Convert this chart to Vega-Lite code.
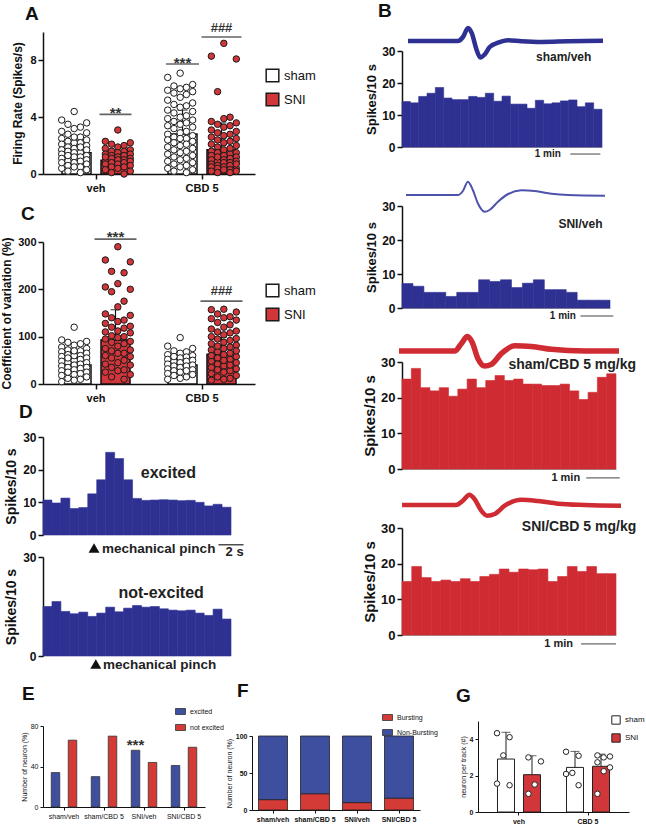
{
"$schema": "https://vega.github.io/schema/vega-lite/v6.json",
"background": "white",
"padding": {"left": 0, "top": 2, "right": 2, "bottom": 0},
"config": {
  "view": {"stroke": null},
  "font": "Liberation Sans",
  "axis": {"grid": false, "domainColor": "#111", "tickColor": "#111", "domainWidth": 1.5, "tickWidth": 1.5, "tickSize": 4, "labelColor": "#111", "titleColor": "#111", "labelFontWeight": "bold", "titleFontWeight": "bold", "labelFont": "Liberation Sans", "titleFont": "Liberation Sans"},
  "title": {"fontSize": 19, "fontWeight": "bold", "anchor": "start", "frame": "group", "color": "#111", "font": "Liberation Sans", "baseline": "alphabetic"},
  "legend": {"labelFont": "Liberation Sans", "labelColor": "#111"}
},
"datasets": {
  "a_bar": [{"g":"veh","c":"sham","mean":1.5,"hi":2.4},{"g":"veh","c":"SNI","mean":0.96,"hi":1.55},{"g":"CBD 5","c":"sham","mean":2.82,"hi":4.5},{"g":"CBD 5","c":"SNI","mean":1.7,"hi":3.6}],
  "c_bar": [{"g":"veh","c":"sham","mean":40,"hi":65},{"g":"veh","c":"SNI","mean":93,"hi":157},{"g":"CBD 5","c":"sham","mean":40,"hi":58},{"g":"CBD 5","c":"SNI","mean":63,"hi":98}],
  "a_pts": [
{"g":"veh","c":"sham","v":4.4},{"g":"veh","c":"sham","v":3.8},{"g":"veh","c":"sham","v":3.6},{"g":"veh","c":"sham","v":3.5},{"g":"veh","c":"sham","v":3.3},{"g":"veh","c":"sham","v":3.2},{"g":"veh","c":"sham","v":3.0},{"g":"veh","c":"sham","v":2.9},{"g":"veh","c":"sham","v":2.8},{"g":"veh","c":"sham","v":2.6},{"g":"veh","c":"sham","v":2.5},{"g":"veh","c":"sham","v":2.4},{"g":"veh","c":"sham","v":2.3},{"g":"veh","c":"sham","v":2.2},{"g":"veh","c":"sham","v":2.2},{"g":"veh","c":"sham","v":2.1},{"g":"veh","c":"sham","v":2.0},{"g":"veh","c":"sham","v":1.9},{"g":"veh","c":"sham","v":1.8},{"g":"veh","c":"sham","v":1.7},{"g":"veh","c":"sham","v":1.7},{"g":"veh","c":"sham","v":1.6},{"g":"veh","c":"sham","v":1.5},{"g":"veh","c":"sham","v":1.5},{"g":"veh","c":"sham","v":1.4},{"g":"veh","c":"sham","v":1.3},{"g":"veh","c":"sham","v":1.2},{"g":"veh","c":"sham","v":1.2},{"g":"veh","c":"sham","v":1.1},{"g":"veh","c":"sham","v":1.0},{"g":"veh","c":"sham","v":0.9},{"g":"veh","c":"sham","v":0.9},{"g":"veh","c":"sham","v":0.8},{"g":"veh","c":"sham","v":0.7},{"g":"veh","c":"sham","v":0.6},{"g":"veh","c":"sham","v":0.5},{"g":"veh","c":"sham","v":0.5},{"g":"veh","c":"sham","v":0.4},{"g":"veh","c":"sham","v":0.3},{"g":"veh","c":"sham","v":0.2},{"g":"veh","c":"sham","v":0.1},{"g":"veh","c":"sham","v":2.6},{"g":"veh","c":"sham","v":1.9},{"g":"veh","c":"sham","v":1.3},{"g":"veh","c":"sham","v":0.8},
{"g":"veh","c":"SNI","v":3.1},{"g":"veh","c":"SNI","v":2.3},{"g":"veh","c":"SNI","v":2.2},{"g":"veh","c":"SNI","v":2.1},{"g":"veh","c":"SNI","v":2.0},{"g":"veh","c":"SNI","v":1.9},{"g":"veh","c":"SNI","v":1.8},{"g":"veh","c":"SNI","v":1.7},{"g":"veh","c":"SNI","v":1.6},{"g":"veh","c":"SNI","v":1.6},{"g":"veh","c":"SNI","v":1.5},{"g":"veh","c":"SNI","v":1.4},{"g":"veh","c":"SNI","v":1.4},{"g":"veh","c":"SNI","v":1.3},{"g":"veh","c":"SNI","v":1.3},{"g":"veh","c":"SNI","v":1.2},{"g":"veh","c":"SNI","v":1.1},{"g":"veh","c":"SNI","v":1.1},{"g":"veh","c":"SNI","v":1.0},{"g":"veh","c":"SNI","v":1.0},{"g":"veh","c":"SNI","v":0.9},{"g":"veh","c":"SNI","v":0.9},{"g":"veh","c":"SNI","v":0.8},{"g":"veh","c":"SNI","v":0.8},{"g":"veh","c":"SNI","v":0.7},{"g":"veh","c":"SNI","v":0.7},{"g":"veh","c":"SNI","v":0.6},{"g":"veh","c":"SNI","v":0.5},{"g":"veh","c":"SNI","v":0.5},{"g":"veh","c":"SNI","v":0.4},{"g":"veh","c":"SNI","v":0.3},{"g":"veh","c":"SNI","v":0.2},{"g":"veh","c":"SNI","v":0.1},{"g":"veh","c":"SNI","v":0.0},{"g":"veh","c":"SNI","v":1.2},
{"g":"CBD 5","c":"sham","v":7.1},{"g":"CBD 5","c":"sham","v":6.8},{"g":"CBD 5","c":"sham","v":6.3},{"g":"CBD 5","c":"sham","v":6.1},{"g":"CBD 5","c":"sham","v":6.0},{"g":"CBD 5","c":"sham","v":5.9},{"g":"CBD 5","c":"sham","v":5.8},{"g":"CBD 5","c":"sham","v":5.6},{"g":"CBD 5","c":"sham","v":5.4},{"g":"CBD 5","c":"sham","v":5.2},{"g":"CBD 5","c":"sham","v":5.0},{"g":"CBD 5","c":"sham","v":4.9},{"g":"CBD 5","c":"sham","v":4.7},{"g":"CBD 5","c":"sham","v":4.5},{"g":"CBD 5","c":"sham","v":4.4},{"g":"CBD 5","c":"sham","v":4.3},{"g":"CBD 5","c":"sham","v":4.1},{"g":"CBD 5","c":"sham","v":4.0},{"g":"CBD 5","c":"sham","v":3.9},{"g":"CBD 5","c":"sham","v":3.8},{"g":"CBD 5","c":"sham","v":3.7},{"g":"CBD 5","c":"sham","v":3.5},{"g":"CBD 5","c":"sham","v":3.4},{"g":"CBD 5","c":"sham","v":3.3},{"g":"CBD 5","c":"sham","v":3.2},{"g":"CBD 5","c":"sham","v":3.0},{"g":"CBD 5","c":"sham","v":2.9},{"g":"CBD 5","c":"sham","v":2.8},{"g":"CBD 5","c":"sham","v":2.7},{"g":"CBD 5","c":"sham","v":2.6},{"g":"CBD 5","c":"sham","v":2.5},{"g":"CBD 5","c":"sham","v":2.4},{"g":"CBD 5","c":"sham","v":2.3},{"g":"CBD 5","c":"sham","v":2.2},{"g":"CBD 5","c":"sham","v":2.1},{"g":"CBD 5","c":"sham","v":2.0},{"g":"CBD 5","c":"sham","v":1.9},{"g":"CBD 5","c":"sham","v":1.8},{"g":"CBD 5","c":"sham","v":1.7},{"g":"CBD 5","c":"sham","v":1.6},{"g":"CBD 5","c":"sham","v":1.5},{"g":"CBD 5","c":"sham","v":1.4},{"g":"CBD 5","c":"sham","v":1.3},{"g":"CBD 5","c":"sham","v":1.2},{"g":"CBD 5","c":"sham","v":1.1},{"g":"CBD 5","c":"sham","v":1.0},{"g":"CBD 5","c":"sham","v":0.9},{"g":"CBD 5","c":"sham","v":0.8},{"g":"CBD 5","c":"sham","v":0.7},{"g":"CBD 5","c":"sham","v":0.6},{"g":"CBD 5","c":"sham","v":0.5},{"g":"CBD 5","c":"sham","v":0.4},{"g":"CBD 5","c":"sham","v":0.3},{"g":"CBD 5","c":"sham","v":0.2},{"g":"CBD 5","c":"sham","v":0.1},{"g":"CBD 5","c":"sham","v":6.2},{"g":"CBD 5","c":"sham","v":5.7},{"g":"CBD 5","c":"sham","v":4.8},{"g":"CBD 5","c":"sham","v":3.6},{"g":"CBD 5","c":"sham","v":2.5},
{"g":"CBD 5","c":"SNI","v":9.2},{"g":"CBD 5","c":"SNI","v":8.3},{"g":"CBD 5","c":"SNI","v":8.1},{"g":"CBD 5","c":"SNI","v":5.8},{"g":"CBD 5","c":"SNI","v":4.0},{"g":"CBD 5","c":"SNI","v":3.9},{"g":"CBD 5","c":"SNI","v":3.7},{"g":"CBD 5","c":"SNI","v":3.6},{"g":"CBD 5","c":"SNI","v":3.4},{"g":"CBD 5","c":"SNI","v":3.3},{"g":"CBD 5","c":"SNI","v":3.1},{"g":"CBD 5","c":"SNI","v":3.0},{"g":"CBD 5","c":"SNI","v":2.9},{"g":"CBD 5","c":"SNI","v":2.8},{"g":"CBD 5","c":"SNI","v":2.7},{"g":"CBD 5","c":"SNI","v":2.5},{"g":"CBD 5","c":"SNI","v":2.4},{"g":"CBD 5","c":"SNI","v":2.3},{"g":"CBD 5","c":"SNI","v":2.2},{"g":"CBD 5","c":"SNI","v":2.1},{"g":"CBD 5","c":"SNI","v":2.0},{"g":"CBD 5","c":"SNI","v":1.9},{"g":"CBD 5","c":"SNI","v":1.8},{"g":"CBD 5","c":"SNI","v":1.7},{"g":"CBD 5","c":"SNI","v":1.6},{"g":"CBD 5","c":"SNI","v":1.5},{"g":"CBD 5","c":"SNI","v":1.4},{"g":"CBD 5","c":"SNI","v":1.3},{"g":"CBD 5","c":"SNI","v":1.3},{"g":"CBD 5","c":"SNI","v":1.2},{"g":"CBD 5","c":"SNI","v":1.1},{"g":"CBD 5","c":"SNI","v":1.0},{"g":"CBD 5","c":"SNI","v":1.0},{"g":"CBD 5","c":"SNI","v":0.9},{"g":"CBD 5","c":"SNI","v":0.9},{"g":"CBD 5","c":"SNI","v":0.8},{"g":"CBD 5","c":"SNI","v":0.8},{"g":"CBD 5","c":"SNI","v":0.7},{"g":"CBD 5","c":"SNI","v":0.6},{"g":"CBD 5","c":"SNI","v":0.6},{"g":"CBD 5","c":"SNI","v":0.5},{"g":"CBD 5","c":"SNI","v":0.5},{"g":"CBD 5","c":"SNI","v":0.4},{"g":"CBD 5","c":"SNI","v":0.4},{"g":"CBD 5","c":"SNI","v":0.3},{"g":"CBD 5","c":"SNI","v":0.3},{"g":"CBD 5","c":"SNI","v":0.2},{"g":"CBD 5","c":"SNI","v":0.2},{"g":"CBD 5","c":"SNI","v":0.1},{"g":"CBD 5","c":"SNI","v":0.1},{"g":"CBD 5","c":"SNI","v":1.5},{"g":"CBD 5","c":"SNI","v":1.2},{"g":"CBD 5","c":"SNI","v":0.7},{"g":"CBD 5","c":"SNI","v":2.6},{"g":"CBD 5","c":"SNI","v":3.5}
  ],
  "c_pts": [
{"g":"veh","c":"sham","v":120},{"g":"veh","c":"sham","v":93},{"g":"veh","c":"sham","v":90},{"g":"veh","c":"sham","v":88},{"g":"veh","c":"sham","v":85},{"g":"veh","c":"sham","v":82},{"g":"veh","c":"sham","v":78},{"g":"veh","c":"sham","v":75},{"g":"veh","c":"sham","v":72},{"g":"veh","c":"sham","v":70},{"g":"veh","c":"sham","v":68},{"g":"veh","c":"sham","v":65},{"g":"veh","c":"sham","v":62},{"g":"veh","c":"sham","v":60},{"g":"veh","c":"sham","v":58},{"g":"veh","c":"sham","v":55},{"g":"veh","c":"sham","v":52},{"g":"veh","c":"sham","v":50},{"g":"veh","c":"sham","v":48},{"g":"veh","c":"sham","v":45},{"g":"veh","c":"sham","v":42},{"g":"veh","c":"sham","v":40},{"g":"veh","c":"sham","v":38},{"g":"veh","c":"sham","v":35},{"g":"veh","c":"sham","v":33},{"g":"veh","c":"sham","v":30},{"g":"veh","c":"sham","v":28},{"g":"veh","c":"sham","v":25},{"g":"veh","c":"sham","v":22},{"g":"veh","c":"sham","v":20},{"g":"veh","c":"sham","v":18},{"g":"veh","c":"sham","v":15},{"g":"veh","c":"sham","v":12},{"g":"veh","c":"sham","v":10},{"g":"veh","c":"sham","v":8},{"g":"veh","c":"sham","v":5},{"g":"veh","c":"sham","v":45},{"g":"veh","c":"sham","v":55},{"g":"veh","c":"sham","v":35},{"g":"veh","c":"sham","v":25},{"g":"veh","c":"sham","v":60},{"g":"veh","c":"sham","v":70},
{"g":"veh","c":"SNI","v":290},{"g":"veh","c":"SNI","v":262},{"g":"veh","c":"SNI","v":258},{"g":"veh","c":"SNI","v":238},{"g":"veh","c":"SNI","v":235},{"g":"veh","c":"SNI","v":212},{"g":"veh","c":"SNI","v":205},{"g":"veh","c":"SNI","v":200},{"g":"veh","c":"SNI","v":195},{"g":"veh","c":"SNI","v":175},{"g":"veh","c":"SNI","v":163},{"g":"veh","c":"SNI","v":148},{"g":"veh","c":"SNI","v":145},{"g":"veh","c":"SNI","v":140},{"g":"veh","c":"SNI","v":132},{"g":"veh","c":"SNI","v":128},{"g":"veh","c":"SNI","v":122},{"g":"veh","c":"SNI","v":118},{"g":"veh","c":"SNI","v":112},{"g":"veh","c":"SNI","v":108},{"g":"veh","c":"SNI","v":102},{"g":"veh","c":"SNI","v":98},{"g":"veh","c":"SNI","v":95},{"g":"veh","c":"SNI","v":90},{"g":"veh","c":"SNI","v":85},{"g":"veh","c":"SNI","v":80},{"g":"veh","c":"SNI","v":75},{"g":"veh","c":"SNI","v":70},{"g":"veh","c":"SNI","v":65},{"g":"veh","c":"SNI","v":60},{"g":"veh","c":"SNI","v":55},{"g":"veh","c":"SNI","v":50},{"g":"veh","c":"SNI","v":45},{"g":"veh","c":"SNI","v":40},{"g":"veh","c":"SNI","v":35},{"g":"veh","c":"SNI","v":30},{"g":"veh","c":"SNI","v":25},{"g":"veh","c":"SNI","v":20},{"g":"veh","c":"SNI","v":15},{"g":"veh","c":"SNI","v":10},{"g":"veh","c":"SNI","v":120},{"g":"veh","c":"SNI","v":100},{"g":"veh","c":"SNI","v":88},{"g":"veh","c":"SNI","v":72},{"g":"veh","c":"SNI","v":58},{"g":"veh","c":"SNI","v":42},{"g":"veh","c":"SNI","v":28},{"g":"veh","c":"SNI","v":135},{"g":"veh","c":"SNI","v":110},{"g":"veh","c":"SNI","v":65},
{"g":"CBD 5","c":"sham","v":98},{"g":"CBD 5","c":"sham","v":80},{"g":"CBD 5","c":"sham","v":75},{"g":"CBD 5","c":"sham","v":70},{"g":"CBD 5","c":"sham","v":68},{"g":"CBD 5","c":"sham","v":65},{"g":"CBD 5","c":"sham","v":62},{"g":"CBD 5","c":"sham","v":60},{"g":"CBD 5","c":"sham","v":57},{"g":"CBD 5","c":"sham","v":55},{"g":"CBD 5","c":"sham","v":52},{"g":"CBD 5","c":"sham","v":50},{"g":"CBD 5","c":"sham","v":48},{"g":"CBD 5","c":"sham","v":45},{"g":"CBD 5","c":"sham","v":42},{"g":"CBD 5","c":"sham","v":40},{"g":"CBD 5","c":"sham","v":38},{"g":"CBD 5","c":"sham","v":35},{"g":"CBD 5","c":"sham","v":32},{"g":"CBD 5","c":"sham","v":30},{"g":"CBD 5","c":"sham","v":28},{"g":"CBD 5","c":"sham","v":25},{"g":"CBD 5","c":"sham","v":22},{"g":"CBD 5","c":"sham","v":20},{"g":"CBD 5","c":"sham","v":18},{"g":"CBD 5","c":"sham","v":15},{"g":"CBD 5","c":"sham","v":12},{"g":"CBD 5","c":"sham","v":10},{"g":"CBD 5","c":"sham","v":48},{"g":"CBD 5","c":"sham","v":38},{"g":"CBD 5","c":"sham","v":28},{"g":"CBD 5","c":"sham","v":58},
{"g":"CBD 5","c":"SNI","v":158},{"g":"CBD 5","c":"SNI","v":157},{"g":"CBD 5","c":"SNI","v":152},{"g":"CBD 5","c":"SNI","v":148},{"g":"CBD 5","c":"SNI","v":142},{"g":"CBD 5","c":"SNI","v":138},{"g":"CBD 5","c":"SNI","v":135},{"g":"CBD 5","c":"SNI","v":130},{"g":"CBD 5","c":"SNI","v":125},{"g":"CBD 5","c":"SNI","v":120},{"g":"CBD 5","c":"SNI","v":116},{"g":"CBD 5","c":"SNI","v":112},{"g":"CBD 5","c":"SNI","v":108},{"g":"CBD 5","c":"SNI","v":104},{"g":"CBD 5","c":"SNI","v":100},{"g":"CBD 5","c":"SNI","v":96},{"g":"CBD 5","c":"SNI","v":92},{"g":"CBD 5","c":"SNI","v":88},{"g":"CBD 5","c":"SNI","v":85},{"g":"CBD 5","c":"SNI","v":82},{"g":"CBD 5","c":"SNI","v":78},{"g":"CBD 5","c":"SNI","v":75},{"g":"CBD 5","c":"SNI","v":72},{"g":"CBD 5","c":"SNI","v":68},{"g":"CBD 5","c":"SNI","v":65},{"g":"CBD 5","c":"SNI","v":62},{"g":"CBD 5","c":"SNI","v":58},{"g":"CBD 5","c":"SNI","v":55},{"g":"CBD 5","c":"SNI","v":52},{"g":"CBD 5","c":"SNI","v":48},{"g":"CBD 5","c":"SNI","v":45},{"g":"CBD 5","c":"SNI","v":42},{"g":"CBD 5","c":"SNI","v":38},{"g":"CBD 5","c":"SNI","v":35},{"g":"CBD 5","c":"SNI","v":32},{"g":"CBD 5","c":"SNI","v":28},{"g":"CBD 5","c":"SNI","v":25},{"g":"CBD 5","c":"SNI","v":22},{"g":"CBD 5","c":"SNI","v":18},{"g":"CBD 5","c":"SNI","v":15},{"g":"CBD 5","c":"SNI","v":12},{"g":"CBD 5","c":"SNI","v":10},{"g":"CBD 5","c":"SNI","v":8},{"g":"CBD 5","c":"SNI","v":95},{"g":"CBD 5","c":"SNI","v":70},{"g":"CBD 5","c":"SNI","v":50},{"g":"CBD 5","c":"SNI","v":30},{"g":"CBD 5","c":"SNI","v":140},{"g":"CBD 5","c":"SNI","v":110},{"g":"CBD 5","c":"SNI","v":60},{"g":"CBD 5","c":"SNI","v":80},{"g":"CBD 5","c":"SNI","v":40}
  ],
  "d1": [{"t":0,"s":10.7},{"t":1,"s":9.8},{"t":2,"s":11.3},{"t":3,"s":8.1},{"t":4,"s":8.4},{"t":5,"s":12.6},{"t":6,"s":16.9},{"t":7,"s":25.3},{"t":8,"s":23.4},{"t":9,"s":16.9},{"t":10,"s":11.2},{"t":11,"s":10.6},{"t":12,"s":10.7},{"t":13,"s":10.8},{"t":14,"s":10.7},{"t":15,"s":10.5},{"t":16,"s":10.6},{"t":17,"s":10.0},{"t":18,"s":8.9},{"t":19,"s":9.4},{"t":20,"s":8.5}],
  "d2": [{"t":0,"s":15.0},{"t":1,"s":16.5},{"t":2,"s":13.5},{"t":3,"s":12.8},{"t":4,"s":13.3},{"t":5,"s":12.0},{"t":6,"s":13.0},{"t":7,"s":14.8},{"t":8,"s":13.4},{"t":9,"s":14.5},{"t":10,"s":15.3},{"t":11,"s":14.8},{"t":12,"s":15.0},{"t":13,"s":14.3},{"t":14,"s":13.9},{"t":15,"s":13.7},{"t":16,"s":13.9},{"t":17,"s":13.0},{"t":18,"s":12.3},{"t":19,"s":14.2},{"t":20,"s":11.2}],
  "b1": [{"t":0,"s":14.2},{"t":1,"s":13.8},{"t":2,"s":15.8},{"t":3,"s":16.8},{"t":4,"s":18.6},{"t":5,"s":15.3},{"t":6,"s":14.8},{"t":7,"s":14.8},{"t":8,"s":15.8},{"t":9,"s":15.5},{"t":10,"s":16.8},{"t":11,"s":14.3},{"t":12,"s":15.9},{"t":13,"s":13.4},{"t":14,"s":13.4},{"t":15,"s":12.1},{"t":16,"s":14.6},{"t":17,"s":13.5},{"t":18,"s":13.8},{"t":19,"s":14.4},{"t":20,"s":14.7},{"t":21,"s":12.6},{"t":22,"s":13.8},{"t":23,"s":11.8}],
  "b2": [{"t":0,"s":7.2},{"t":1,"s":6.4},{"t":2,"s":4.6},{"t":3,"s":4.6},{"t":4,"s":3.4},{"t":5,"s":4.6},{"t":6,"s":4.6},{"t":7,"s":8.3},{"t":8,"s":7.8},{"t":9,"s":8.3},{"t":10,"s":6.0},{"t":11,"s":7.3},{"t":12,"s":8.3},{"t":13,"s":5.4},{"t":14,"s":5.4},{"t":15,"s":4.6},{"t":16,"s":2.3},{"t":17,"s":2.3},{"t":18,"s":2.3}],
  "b3": [{"t":0,"s":25.2},{"t":1,"s":28.2},{"t":2,"s":22.8},{"t":3,"s":21.9},{"t":4,"s":22.8},{"t":5,"s":20.4},{"t":6,"s":22.4},{"t":7,"s":25.2},{"t":8,"s":22.8},{"t":9,"s":24.8},{"t":10,"s":26.2},{"t":11,"s":24.8},{"t":12,"s":25.2},{"t":13,"s":23.8},{"t":14,"s":23.8},{"t":15,"s":23.4},{"t":16,"s":23.4},{"t":17,"s":23.8},{"t":18,"s":21.9},{"t":19,"s":19.5},{"t":20,"s":21.5},{"t":21,"s":25.7},{"t":22,"s":26.7}],
  "b4": [{"t":0,"s":15.0},{"t":1,"s":19.2},{"t":2,"s":16.1},{"t":3,"s":15.0},{"t":4,"s":15.4},{"t":5,"s":15.0},{"t":6,"s":15.8},{"t":7,"s":15.0},{"t":8,"s":16.4},{"t":9,"s":17.0},{"t":10,"s":18.5},{"t":11,"s":17.6},{"t":12,"s":18.5},{"t":13,"s":18.3},{"t":14,"s":18.5},{"t":15,"s":15.0},{"t":16,"s":16.4},{"t":17,"s":19.2},{"t":18,"s":17.8},{"t":19,"s":19.2},{"t":20,"s":17.2},{"t":21,"s":17.2}],
  "wf": [
{"w":"b1","p":0,"u":0},{"w":"b1","p":25.6,"u":0},{"w":"b1","p":28.2,"u":4},{"w":"b1","p":30.8,"u":13},{"w":"b1","p":32.8,"u":7.3},{"w":"b1","p":35.0,"u":-7.7},{"w":"b1","p":37.1,"u":-16.5},{"w":"b1","p":39.3,"u":-13.5},{"w":"b1","p":41.9,"u":-6},{"w":"b1","p":46.2,"u":-1.7},{"w":"b1","p":51.3,"u":0.7},{"w":"b1","p":58.1,"u":-0.3},{"w":"b1","p":68.4,"u":-1},{"w":"b1","p":82,"u":-0.3},{"w":"b1","p":100,"u":0.3},
{"w":"b2","p":0,"u":0},{"w":"b2","p":26.1,"u":0},{"w":"b2","p":28.6,"u":4},{"w":"b2","p":31.1,"u":13.3},{"w":"b2","p":33.6,"u":5},{"w":"b2","p":36.1,"u":-8.3},{"w":"b2","p":39.5,"u":-16.7},{"w":"b2","p":42,"u":-15},{"w":"b2","p":46.2,"u":-6.7},{"w":"b2","p":51.3,"u":1},{"w":"b2","p":58,"u":4.7},{"w":"b2","p":64.7,"u":4},{"w":"b2","p":73.1,"u":1.3},{"w":"b2","p":81.5,"u":0},{"w":"b2","p":100,"u":-0.7},
{"w":"b3","p":0,"u":0},{"w":"b3","p":25.3,"u":0},{"w":"b3","p":28.3,"u":7.3},{"w":"b3","p":31.1,"u":14.5},{"w":"b3","p":33.2,"u":9},{"w":"b3","p":35.9,"u":-7.7},{"w":"b3","p":38.9,"u":-15},{"w":"b3","p":41.9,"u":-13.5},{"w":"b3","p":46.5,"u":-2.7},{"w":"b3","p":52.6,"u":5.2},{"w":"b3","p":60.2,"u":4.6},{"w":"b3","p":69.2,"u":1.7},{"w":"b3","p":84.4,"u":0},{"w":"b3","p":100,"u":0},
{"w":"b4","p":0,"u":0},{"w":"b4","p":24.7,"u":0},{"w":"b4","p":27.8,"u":4.3},{"w":"b4","p":30.8,"u":10.3},{"w":"b4","p":33.1,"u":6},{"w":"b4","p":36.2,"u":-5.7},{"w":"b4","p":38.9,"u":-10.7},{"w":"b4","p":42.3,"u":-9},{"w":"b4","p":46.9,"u":-0.7},{"w":"b4","p":54.5,"u":5.3},{"w":"b4","p":62.1,"u":4},{"w":"b4","p":71.3,"u":1.3},{"w":"b4","p":83.5,"u":0},{"w":"b4","p":100,"u":-0.7}
  ],
  "e": [{"grp":"sham/veh","k":"excited","pct":34},{"grp":"sham/veh","k":"not excited","pct":66},{"grp":"sham/CBD 5","k":"excited","pct":30},{"grp":"sham/CBD 5","k":"not excited","pct":70},{"grp":"SNI/veh","k":"excited","pct":56},{"grp":"SNI/veh","k":"not excited","pct":44},{"grp":"SNI/CBD 5","k":"excited","pct":41},{"grp":"SNI/CBD 5","k":"not excited","pct":59}],
  "f": [{"grp":"sham/veh","k":"Bursting","pct":14},{"grp":"sham/veh","k":"Non-Bursting","pct":86},{"grp":"sham/CBD 5","k":"Bursting","pct":22},{"grp":"sham/CBD 5","k":"Non-Bursting","pct":78},{"grp":"SNI/veh","k":"Bursting","pct":10},{"grp":"SNI/veh","k":"Non-Bursting","pct":90},{"grp":"SNI/CBD 5","k":"Bursting","pct":16},{"grp":"SNI/CBD 5","k":"Non-Bursting","pct":84}],
  "g_bar": [{"g":"veh","c":"sham","mean":2.91,"hi":4.38},{"g":"veh","c":"SNI","mean":2.05,"hi":3.09},{"g":"CBD 5","c":"sham","mean":2.45,"hi":3.33},{"g":"CBD 5","c":"SNI","mean":2.51,"hi":3.18}],
  "g_pts": [{"g":"veh","c":"sham","v":4.33},{"g":"veh","c":"sham","v":4.11},{"g":"veh","c":"sham","v":3.11},{"g":"veh","c":"sham","v":1.56},{"g":"veh","c":"sham","v":1.47},{"g":"veh","c":"SNI","v":3.0},{"g":"veh","c":"SNI","v":2.78},{"g":"veh","c":"SNI","v":1.51},{"g":"veh","c":"SNI","v":1.0},{"g":"CBD 5","c":"sham","v":3.31},{"g":"CBD 5","c":"sham","v":3.09},{"g":"CBD 5","c":"sham","v":2.15},{"g":"CBD 5","c":"sham","v":2.09},{"g":"CBD 5","c":"sham","v":1.47},{"g":"CBD 5","c":"SNI","v":3.11},{"g":"CBD 5","c":"SNI","v":3.05},{"g":"CBD 5","c":"SNI","v":3.0},{"g":"CBD 5","c":"SNI","v":2.73},{"g":"CBD 5","c":"SNI","v":2.45},{"g":"CBD 5","c":"SNI","v":2.24},{"g":"CBD 5","c":"SNI","v":1.0}]
},
"spacing": 10,
"resolve": {"scale": {"fill": "independent"}, "legend": {"fill": "independent"}},
"vconcat": [
 {"spacing": 46, "resolve": {"scale": {"fill": "independent"}, "legend": {"fill": "independent"}}, "hconcat": [
  {"spacing": 22, "bounds": "flush", "resolve": {"scale": {"fill": "independent"}, "legend": {"fill": "independent"}}, "vconcat": [
   {
    "width": 212, "height": 152,
    "title": {"text": "A", "dx": -18, "offset": -2},
    "encoding": {"x": {"field": "g", "type": "nominal", "sort": ["veh", "CBD 5"], "scale": {"paddingInner": 0, "paddingOuter": 0}, "axis": {"title": null, "labelAngle": 0, "labelFontSize": 11, "tickSize": 5, "labelPadding": 3}}},
    "layer": [
     {"layer": [
      {"data": {"name": "a_bar"}, "mark": {"type": "bar", "stroke": "#111", "strokeWidth": 1.5},
       "encoding": {
        "xOffset": {"field": "c", "type": "nominal", "scale": {"domain": ["sham", "SNI"], "paddingInner": 0.256, "paddingOuter": 0.487}},
        "y": {"field": "mean", "type": "quantitative", "scale": {"domain": [0, 10], "range": [152, 10], "nice": false}, "axis": {"values": [0, 2, 4, 6, 8, 10], "title": "Firing Rate (Spikes/s)", "titleFontSize": 12, "labelFontSize": 11, "tickSize": 5, "titlePadding": 5, "labelOverlap": false}},
        "fill": {"field": "c", "type": "nominal", "scale": {"domain": ["sham", "SNI"], "range": ["#ffffff", "#d1363a"]}, "legend": {"title": null, "orient": "none", "legendX": 222, "legendY": 46, "symbolType": "square", "symbolSize": 160, "symbolStrokeColor": "#111", "symbolStrokeWidth": 1.5, "labelFontSize": 13, "rowPadding": 5}}
       }},
      {"data": {"name": "a_bar"}, "mark": {"type": "rule", "color": "#111", "strokeWidth": 1.2}, "encoding": {"xOffset": {"field": "c", "type": "nominal"}, "y": {"field": "mean", "type": "quantitative"}, "y2": {"field": "hi"}}},
      {"data": {"name": "a_bar"}, "mark": {"type": "tick", "color": "#111", "thickness": 1.2, "size": 10}, "encoding": {"xOffset": {"field": "c", "type": "nominal"}, "y": {"field": "hi", "type": "quantitative"}}},
      {"data": {"values": [{}]}, "mark": {"type": "tick", "color": "#222", "thickness": 1.6, "size": 32}, "encoding": {"x": {"datum": "veh"}, "xOffset": {"datum": "SNI"}, "y": {"datum": 4.2}}},
      {"data": {"values": [{}]}, "mark": {"type": "text", "text": "**", "fontSize": 15, "fontWeight": "bold", "color": "#333", "baseline": "alphabetic", "dy": 4}, "encoding": {"x": {"datum": "veh"}, "xOffset": {"datum": "SNI"}, "y": {"datum": 4.2}}},
      {"data": {"values": [{}]}, "mark": {"type": "tick", "color": "#222", "thickness": 1.6, "size": 33}, "encoding": {"x": {"datum": "CBD 5"}, "xOffset": {"datum": "sham"}, "y": {"datum": 7.75}}},
      {"data": {"values": [{}]}, "mark": {"type": "text", "text": "***", "fontSize": 15, "fontWeight": "bold", "color": "#333", "baseline": "alphabetic", "dy": 4}, "encoding": {"x": {"datum": "CBD 5"}, "xOffset": {"datum": "sham"}, "y": {"datum": 7.75}}},
      {"data": {"values": [{}]}, "mark": {"type": "tick", "color": "#222", "thickness": 1.6, "size": 40}, "encoding": {"x": {"datum": "CBD 5"}, "xOffset": {"datum": "SNI"}, "y": {"datum": 9.65}}},
      {"data": {"values": [{}]}, "mark": {"type": "text", "text": "###", "fontSize": 13, "fontWeight": "bold", "color": "#333", "baseline": "alphabetic", "dy": -5}, "encoding": {"x": {"datum": "CBD 5"}, "xOffset": {"datum": "SNI"}, "y": {"datum": 9.65}}}
     ]},
     {"data": {"name": "a_pts"},
      "transform": [{"window": [{"op": "row_number", "as": "rn"}], "groupby": ["g", "c"], "sort": [{"field": "v", "order": "descending"}]}, {"calculate": "datum.c + [2,0,4,1,3][(datum.rn - 1) % 5]", "as": "jk"}],
      "mark": {"type": "point", "shape": "circle", "filled": true, "size": 42, "stroke": "#1a1a1a", "strokeWidth": 1, "opacity": 1},
      "encoding": {
       "xOffset": {"field": "jk", "type": "nominal", "scale": {"domain": ["p1","p2","p3","sham0","sham1","sham2","sham3","sham4","p4","p5","SNI0","SNI1","SNI2","SNI3","SNI4","p6","p7","p8"], "paddingInner": 0, "paddingOuter": 0}},
       "y": {"field": "v", "type": "quantitative", "axis": {"values": [0, 2, 4, 6, 8, 10], "title": "Firing Rate (Spikes/s)", "titleFontSize": 12, "labelFontSize": 11, "tickSize": 5, "titlePadding": 5, "labelOverlap": false}},
       "fill": {"field": "c", "type": "nominal"}
      }}
    ],
    "resolve": {"scale": {"xOffset": "independent"}}
   },
   {
    "width": 212, "height": 188,
    "title": {"text": "C", "dx": -22, "offset": 0, "dy": 28},
    "encoding": {"x": {"field": "g", "type": "nominal", "sort": ["veh", "CBD 5"], "scale": {"paddingInner": 0, "paddingOuter": 0}, "axis": {"title": null, "labelAngle": 0, "labelFontSize": 11, "tickSize": 5, "labelPadding": 3}}},
    "layer": [
     {"layer": [
      {"data": {"name": "c_bar"}, "mark": {"type": "bar", "stroke": "#111", "strokeWidth": 1.5},
       "encoding": {
        "xOffset": {"field": "c", "type": "nominal", "scale": {"domain": ["sham", "SNI"], "paddingInner": 0.256, "paddingOuter": 0.487}},
        "y": {"field": "mean", "type": "quantitative", "scale": {"domain": [0, 300], "range": [188, 46], "nice": false}, "axis": {"values": [0, 100, 200, 300], "title": "Coefficient of variation (%)", "titleFontSize": 12, "labelFontSize": 11, "tickSize": 5, "titlePadding": 4, "labelOverlap": false}},
        "fill": {"field": "c", "type": "nominal", "scale": {"domain": ["sham", "SNI"], "range": ["#ffffff", "#d1363a"]}, "legend": {"title": null, "orient": "none", "legendX": 222, "legendY": 87, "symbolType": "square", "symbolSize": 160, "symbolStrokeColor": "#111", "symbolStrokeWidth": 1.5, "labelFontSize": 13, "rowPadding": 5}}
       }},
      {"data": {"name": "c_bar"}, "mark": {"type": "rule", "color": "#111", "strokeWidth": 1.2}, "encoding": {"xOffset": {"field": "c", "type": "nominal"}, "y": {"field": "mean", "type": "quantitative"}, "y2": {"field": "hi"}}},
      {"data": {"name": "c_bar"}, "mark": {"type": "tick", "color": "#111", "thickness": 1.2, "size": 10}, "encoding": {"xOffset": {"field": "c", "type": "nominal"}, "y": {"field": "hi", "type": "quantitative"}}},
      {"data": {"values": [{}]}, "mark": {"type": "tick", "color": "#222", "thickness": 1.6, "size": 42}, "encoding": {"x": {"datum": "veh"}, "xOffset": {"datum": "SNI"}, "y": {"datum": 306}}},
      {"data": {"values": [{}]}, "mark": {"type": "text", "text": "***", "fontSize": 15, "fontWeight": "bold", "color": "#333", "baseline": "alphabetic", "dy": 3}, "encoding": {"x": {"datum": "veh"}, "xOffset": {"datum": "SNI"}, "y": {"datum": 306}}},
      {"data": {"values": [{}]}, "mark": {"type": "tick", "color": "#222", "thickness": 1.6, "size": 42}, "encoding": {"x": {"datum": "CBD 5"}, "xOffset": {"datum": "SNI"}, "y": {"datum": 175}}},
      {"data": {"values": [{}]}, "mark": {"type": "text", "text": "###", "fontSize": 13, "fontWeight": "bold", "color": "#333", "baseline": "alphabetic", "dy": -6}, "encoding": {"x": {"datum": "CBD 5"}, "xOffset": {"datum": "SNI"}, "y": {"datum": 175}}}
     ]},
     {"data": {"name": "c_pts"},
      "transform": [{"window": [{"op": "row_number", "as": "rn"}], "groupby": ["g", "c"], "sort": [{"field": "v", "order": "descending"}]}, {"calculate": "datum.c + [2,0,4,1,3][(datum.rn - 1) % 5]", "as": "jk"}],
      "mark": {"type": "point", "shape": "circle", "filled": true, "size": 42, "stroke": "#1a1a1a", "strokeWidth": 1, "opacity": 1},
      "encoding": {
       "xOffset": {"field": "jk", "type": "nominal", "scale": {"domain": ["p1","p2","p3","sham0","sham1","sham2","sham3","sham4","p4","p5","SNI0","SNI1","SNI2","SNI3","SNI4","p6","p7","p8"], "paddingInner": 0, "paddingOuter": 0}},
       "y": {"field": "v", "type": "quantitative", "axis": {"values": [0, 100, 200, 300], "title": "Coefficient of variation (%)", "titleFontSize": 12, "labelFontSize": 11, "tickSize": 5, "titlePadding": 4, "labelOverlap": false}},
       "fill": {"field": "c", "type": "nominal"}
      }}
    ],
    "resolve": {"scale": {"xOffset": "independent"}}
   },
   {
    "width": 188, "height": 129,
    "title": {"text": "D", "dx": -24, "offset": 0, "dy": 16},
    "layer": [
     {"data": {"name": "d1"}, "transform": [{"calculate": "datum.t + 1", "as": "t2"}],
      "mark": {"type": "bar", "color": "#2e3192", "stroke": "#2e3192", "strokeWidth": 0.6},
      "encoding": {
       "x": {"field": "t", "type": "quantitative", "scale": {"domain": [0, 21], "nice": false, "zero": false, "padding": 0}, "axis": null},
       "x2": {"field": "t2"},
       "y": {"field": "s", "type": "quantitative", "scale": {"domain": [0, 30], "range": [129, 31], "nice": false, "padding": 0}, "axis": {"values": [0, 5, 10, 15, 20, 25, 30], "labelExpr": "datum.value % 10 === 0 ? datum.label : ''", "title": "Spikes/10 s", "titleFontSize": 14, "labelFontSize": 12, "tickSize": 5, "titlePadding": 4}},
       "y2": {"datum": 0}
      }},
     {"data": {"values": [{}]}, "mark": {"type": "text", "text": "excited", "fontSize": 16, "fontWeight": "bold", "color": "#222"}, "encoding": {"x": {"datum": 14}, "y": {"datum": 19}}},
     {"data": {"values": [{}]}, "mark": {"type": "point", "shape": "triangle-up", "filled": true, "color": "#111", "size": 120, "opacity": 1}, "encoding": {"x": {"datum": 5.7}, "y": {"datum": -4.0}}},
     {"data": {"values": [{}]}, "mark": {"type": "text", "text": "mechanical pinch", "fontSize": 13.5, "fontWeight": "bold", "align": "left", "color": "#222"}, "encoding": {"x": {"datum": 6.6}, "y": {"datum": -4.3}}},
     {"data": {"values": [{}]}, "mark": {"type": "rule", "color": "#222", "strokeWidth": 1.2}, "encoding": {"x": {"datum": 19.6}, "x2": {"datum": 22.4}, "y": {"datum": -3}}},
     {"data": {"values": [{}]}, "mark": {"type": "text", "text": "2 s", "fontSize": 13, "fontWeight": "bold", "color": "#222"}, "encoding": {"x": {"datum": 21.4}, "y": {"datum": -5.2}}}
    ]
   },
   {
    "width": 188, "height": 99,
    "layer": [
     {"data": {"name": "d2"}, "transform": [{"calculate": "datum.t + 1", "as": "t2"}],
      "mark": {"type": "bar", "color": "#2e3192", "stroke": "#2e3192", "strokeWidth": 0.6},
      "encoding": {
       "x": {"field": "t", "type": "quantitative", "scale": {"domain": [0, 21], "nice": false, "zero": false, "padding": 0}, "axis": null},
       "x2": {"field": "t2"},
       "y": {"field": "s", "type": "quantitative", "scale": {"domain": [0, 30], "nice": false, "padding": 0}, "axis": {"values": [0, 5, 10, 15, 20, 25, 30], "labelExpr": "datum.value % 10 === 0 ? datum.label : ''", "title": "Spikes/10 s", "titleFontSize": 14, "labelFontSize": 12, "tickSize": 5, "titlePadding": 4}},
       "y2": {"datum": 0}
      }},
     {"data": {"values": [{}]}, "mark": {"type": "text", "text": "not-excited", "fontSize": 16, "fontWeight": "bold", "color": "#222"}, "encoding": {"x": {"datum": 13.2}, "y": {"datum": 19}}},
     {"data": {"values": [{}]}, "mark": {"type": "point", "shape": "triangle-up", "filled": true, "color": "#111", "size": 120, "opacity": 1}, "encoding": {"x": {"datum": 5.9}, "y": {"datum": -2.4}}},
     {"data": {"values": [{}]}, "mark": {"type": "text", "text": "mechanical pinch", "fontSize": 13.5, "fontWeight": "bold", "align": "left", "color": "#222"}, "encoding": {"x": {"datum": 6.7}, "y": {"datum": -2.8}}}
    ]
   }
  ]},
  {"spacing": 23, "bounds": "flush", "vconcat": [
   {
    "width": 200, "height": 125,
    "title": {"text": "B", "dx": -24, "offset": -2},
    "layer": [
     {"layer": [
      {"data": {"name": "b1"}, "transform": [{"calculate": "datum.t + 1", "as": "t2"}],
       "mark": {"type": "bar", "color": "#2e3192", "stroke": "#2e3192", "strokeWidth": 0.6},
       "encoding": {
        "x": {"field": "t", "type": "quantitative", "scale": {"domain": [0, 24], "nice": false, "zero": false, "padding": 0}, "axis": {"title": null, "labels": false, "ticks": false, "domainColor": "#999", "domainWidth": 1}},
        "x2": {"field": "t2"},
        "y": {"field": "s", "type": "quantitative", "scale": {"domain": [0, 30], "range": [125, 29], "nice": false, "padding": 0}, "axis": {"values": [0, 5, 10, 15, 20, 25, 30], "labelExpr": "datum.value % 10 === 0 ? datum.label : ''", "title": "Spikes/10 s", "titleFontSize": 13, "labelFontSize": 12, "tickSize": 5, "titlePadding": 3}},
        "y2": {"datum": 0}
       }},
      {"data": {"values": [{}]}, "mark": {"type": "text", "text": "sham/veh", "fontSize": 12, "fontWeight": "bold", "color": "#222"}, "encoding": {"x": {"datum": 19.4}, "y": {"datum": 28.1}}},
      {"data": {"values": [{}]}, "mark": {"type": "text", "text": "1 min", "fontSize": 10, "fontWeight": "bold", "color": "#222"}, "encoding": {"x": {"datum": 17.5}, "y": {"datum": -2.2}}},
      {"data": {"values": [{}]}, "mark": {"type": "rule", "color": "#444", "strokeWidth": 1}, "encoding": {"x": {"datum": 20.2}, "x2": {"datum": 23.8}, "y": {"datum": -2.2}}}
     ]},
     {"data": {"name": "wf"}, "transform": [{"filter": "datum.w === 'b1'"}],
      "mark": {"type": "line", "color": "#2e3192", "strokeWidth": 4.5, "interpolate": "monotone"},
      "encoding": {
       "x": {"field": "p", "type": "quantitative", "scale": {"domain": [0, 100], "range": [6, 201]}, "axis": null},
       "y": {"field": "u", "type": "quantitative", "scale": {"domain": [-20, 20], "range": [39, -1]}, "axis": null}
      }}
    ],
    "resolve": {"scale": {"x": "independent", "y": "independent"}}
   },
   {
    "width": 208, "height": 138,
    "layer": [
     {"layer": [
      {"data": {"name": "b2"}, "transform": [{"calculate": "datum.t + 1", "as": "t2"}],
       "mark": {"type": "bar", "color": "#2e3192", "stroke": "#2e3192", "strokeWidth": 0.6},
       "encoding": {
        "x": {"field": "t", "type": "quantitative", "scale": {"domain": [0, 19], "nice": false, "zero": false, "padding": 0}, "axis": {"title": null, "labels": false, "ticks": false, "domainColor": "#999", "domainWidth": 1}},
        "x2": {"field": "t2"},
        "y": {"field": "s", "type": "quantitative", "scale": {"domain": [0, 30], "range": [138, 36], "nice": false, "padding": 0}, "axis": {"values": [0, 5, 10, 15, 20, 25, 30], "labelExpr": "datum.value % 10 === 0 ? datum.label : ''", "title": "Spikes/10 s", "titleFontSize": 13, "labelFontSize": 12, "tickSize": 5, "titlePadding": 3}},
        "y2": {"datum": 0}
       }},
      {"data": {"values": [{}]}, "mark": {"type": "text", "text": "SNI/veh", "fontSize": 12, "fontWeight": "bold", "color": "#222"}, "encoding": {"x": {"datum": 16.3}, "y": {"datum": 24.7}}},
      {"data": {"values": [{}]}, "mark": {"type": "text", "text": "1 min", "fontSize": 10, "fontWeight": "bold", "color": "#222"}, "encoding": {"x": {"datum": 14.7}, "y": {"datum": -2.35}}},
      {"data": {"values": [{}]}, "mark": {"type": "rule", "color": "#444", "strokeWidth": 1}, "encoding": {"x": {"datum": 16.3}, "x2": {"datum": 19.3}, "y": {"datum": -2.35}}}
     ]},
     {"data": {"name": "wf"}, "transform": [{"filter": "datum.w === 'b2'"}],
      "mark": {"type": "line", "color": "#4d53ad", "strokeWidth": 2, "interpolate": "monotone"},
      "encoding": {
       "x": {"field": "p", "type": "quantitative", "scale": {"domain": [0, 100], "range": [4, 203]}, "axis": null},
       "y": {"field": "u", "type": "quantitative", "scale": {"domain": [-20, 20], "range": [45, 5]}, "axis": null}
      }}
    ],
    "resolve": {"scale": {"x": "independent", "y": "independent"}}
   },
   {
    "width": 214, "height": 138,
    "layer": [
     {"layer": [
      {"data": {"name": "b3"}, "transform": [{"calculate": "datum.t + 1", "as": "t2"}],
       "mark": {"type": "bar", "color": "#cf2b33", "stroke": "#cf2b33", "strokeWidth": 0.6},
       "encoding": {
        "x": {"field": "t", "type": "quantitative", "scale": {"domain": [0, 23], "nice": false, "zero": false, "padding": 0}, "axis": {"title": null, "labels": false, "ticks": false, "domainColor": "#999", "domainWidth": 1}},
        "x2": {"field": "t2"},
        "y": {"field": "s", "type": "quantitative", "scale": {"domain": [0, 30], "range": [138, 31], "nice": false, "padding": 0}, "axis": {"values": [0, 5, 10, 15, 20, 25, 30], "labelExpr": "datum.value % 10 === 0 ? datum.label : ''", "title": "Spikes/10 s", "titleFontSize": 15, "labelFontSize": 13, "tickSize": 5, "titlePadding": 3}},
        "y2": {"datum": 0}
       }},
      {"data": {"values": [{}]}, "mark": {"type": "text", "text": "sham/CBD 5 mg/kg", "fontSize": 14, "fontWeight": "bold", "color": "#222"}, "encoding": {"x": {"datum": 18.3}, "y": {"datum": 29.1}}},
      {"data": {"values": [{}]}, "mark": {"type": "text", "text": "1 min", "fontSize": 11, "fontWeight": "bold", "color": "#222"}, "encoding": {"x": {"datum": 17.6}, "y": {"datum": -2.5}}},
      {"data": {"values": [{}]}, "mark": {"type": "rule", "color": "#444", "strokeWidth": 1}, "encoding": {"x": {"datum": 19.8}, "x2": {"datum": 23.4}, "y": {"datum": -2.5}}}
     ]},
     {"data": {"name": "wf"}, "transform": [{"filter": "datum.w === 'b3'"}],
      "mark": {"type": "line", "color": "#cf2b33", "strokeWidth": 5.5, "interpolate": "monotone"},
      "encoding": {
       "x": {"field": "p", "type": "quantitative", "scale": {"domain": [0, 100], "range": [-3, 217]}, "axis": null},
       "y": {"field": "u", "type": "quantitative", "scale": {"domain": [-20, 20], "range": [40, 0]}, "axis": null}
      }}
    ],
    "resolve": {"scale": {"x": "independent", "y": "independent"}}
   },
   {
    "width": 214, "height": 143,
    "layer": [
     {"layer": [
      {"data": {"name": "b4"}, "transform": [{"calculate": "datum.t + 1", "as": "t2"}],
       "mark": {"type": "bar", "color": "#cf2b33", "stroke": "#cf2b33", "strokeWidth": 0.6},
       "encoding": {
        "x": {"field": "t", "type": "quantitative", "scale": {"domain": [0, 22], "nice": false, "zero": false, "padding": 0}, "axis": {"title": null, "labels": false, "ticks": false, "domainColor": "#999", "domainWidth": 1}},
        "x2": {"field": "t2"},
        "y": {"field": "s", "type": "quantitative", "scale": {"domain": [0, 30], "range": [143, 36], "nice": false, "padding": 0}, "axis": {"values": [0, 5, 10, 15, 20, 25, 30], "labelExpr": "datum.value % 10 === 0 ? datum.label : ''", "title": "Spikes/10 s", "titleFontSize": 15, "labelFontSize": 13, "tickSize": 5, "titlePadding": 3}},
        "y2": {"datum": 0}
       }},
      {"data": {"values": [{}]}, "mark": {"type": "text", "text": "SNI/CBD 5 mg/kg", "fontSize": 14, "fontWeight": "bold", "color": "#222"}, "encoding": {"x": {"datum": 18.2}, "y": {"datum": 30.3}}},
      {"data": {"values": [{}]}, "mark": {"type": "text", "text": "1 min", "fontSize": 11, "fontWeight": "bold", "color": "#222"}, "encoding": {"x": {"datum": 16.1}, "y": {"datum": -2.5}}},
      {"data": {"values": [{}]}, "mark": {"type": "rule", "color": "#444", "strokeWidth": 1}, "encoding": {"x": {"datum": 18.4}, "x2": {"datum": 22}, "y": {"datum": -2.5}}}
     ]},
     {"data": {"name": "wf"}, "transform": [{"filter": "datum.w === 'b4'"}],
      "mark": {"type": "line", "color": "#cf2b33", "strokeWidth": 4.5, "interpolate": "monotone"},
      "encoding": {
       "x": {"field": "p", "type": "quantitative", "scale": {"domain": [0, 100], "range": [0, 219]}, "axis": null},
       "y": {"field": "u", "type": "quantitative", "scale": {"domain": [-20, 20], "range": [33, -7]}, "axis": null}
      }}
    ],
    "resolve": {"scale": {"x": "independent", "y": "independent"}}
   }
  ]}
 ]},
 {"spacing": 37, "bounds": "flush", "resolve": {"scale": {"fill": "independent"}, "legend": {"fill": "independent"}}, "hconcat": [
  {
   "width": 172, "height": 97,
   "title": {"text": "E", "dx": -21, "offset": 2},
   "layer": [
    {"data": {"name": "e"}, "mark": {"type": "bar", "stroke": "#333", "strokeWidth": 0.8},
     "encoding": {
      "x": {"field": "grp", "type": "nominal", "sort": ["sham/veh", "sham/CBD 5", "SNI/veh", "SNI/CBD 5"], "scale": {"range": [0, 162], "paddingInner": 0.15, "paddingOuter": 0.1}, "axis": {"title": null, "labelAngle": 0, "labelFontSize": 7, "labelFontWeight": "normal", "tickSize": 3, "domainWidth": 1, "tickWidth": 1, "labelPadding": 2}},
      "xOffset": {"field": "k", "type": "nominal", "scale": {"domain": ["excited", "not excited"], "paddingInner": 0.5, "paddingOuter": 0.25}},
      "y": {"field": "pct", "type": "quantitative", "scale": {"domain": [0, 80], "range": [97, 16], "nice": false}, "axis": {"values": [0, 20, 40, 60, 80], "title": "Number of neuron (%)", "titleFontSize": 7, "titleFontWeight": "normal", "labelFontSize": 7, "labelFontWeight": "normal", "tickSize": 3, "domainWidth": 1, "tickWidth": 1, "titlePadding": 3}},
      "fill": {"field": "k", "type": "nominal", "scale": {"domain": ["excited", "not excited"], "range": ["#3e4fa0", "#d43a36"]}, "legend": {"title": null, "orient": "none", "legendX": 132, "legendY": -4, "symbolType": "M-1,-0.6H1V0.6H-1Z", "symbolSize": 100, "symbolStrokeColor": "#333", "symbolStrokeWidth": 0.8, "labelFontSize": 7, "rowPadding": 5}}
     }},
    {"data": {"values": [{}]}, "mark": {"type": "text", "text": "***", "fontSize": 15, "fontWeight": "bold", "color": "#333"}, "encoding": {"x": {"datum": "SNI/veh"}, "xOffset": {"datum": "excited"}, "y": {"datum": 61}}}
   ]
  },
  {
   "width": 189, "height": 100,
   "title": {"text": "F", "dx": -15, "offset": 9},
   "data": {"name": "f"},
   "mark": {"type": "bar", "stroke": "#222", "strokeWidth": 0.8},
   "encoding": {
    "x": {"field": "grp", "type": "nominal", "sort": ["sham/veh", "sham/CBD 5", "SNI/veh", "SNI/CBD 5"], "scale": {"range": [0, 168], "paddingInner": 0.31, "paddingOuter": 0.155}, "axis": {"title": null, "labelAngle": 0, "labelFontSize": 7, "tickSize": 3, "domainWidth": 1, "tickWidth": 1, "labelPadding": 2}},
    "y": {"field": "pct", "type": "quantitative", "stack": "zero", "scale": {"domain": [0, 100], "range": [100, 26], "nice": false}, "axis": {"values": [0, 50, 100], "title": "Number of neuron (%)", "titleFontSize": 7, "titleFontWeight": "normal", "labelFontSize": 7, "tickSize": 3, "domainWidth": 1, "tickWidth": 1, "titlePadding": 3}},
    "fill": {"field": "k", "type": "nominal", "scale": {"domain": ["Bursting", "Non-Bursting"], "range": ["#d43a36", "#3e4fa0"]}, "legend": {"title": null, "orient": "none", "legendX": 130, "legendY": 2, "symbolType": "M-1,-0.6H1V0.6H-1Z", "symbolSize": 100, "symbolStrokeColor": "#333", "symbolStrokeWidth": 0.8, "labelFontSize": 7, "rowPadding": 4}},
    "order": {"field": "k", "sort": "ascending"}
   }
  },
  {
   "width": 151, "height": 102,
   "title": {"text": "G", "dx": -22, "offset": 4},
   "encoding": {"x": {"field": "g", "type": "nominal", "sort": ["veh", "CBD 5"], "scale": {"paddingInner": 0, "paddingOuter": 0.094}, "axis": {"title": null, "labelAngle": 0, "labelFontSize": 7, "tickSize": 3, "domainWidth": 1, "tickWidth": 1, "labelPadding": 2}}},
   "layer": [
    {"layer": [
     {"data": {"name": "g_bar"}, "mark": {"type": "bar", "stroke": "#222", "strokeWidth": 1},
      "encoding": {
       "xOffset": {"field": "c", "type": "nominal", "scale": {"domain": ["sham", "SNI"], "paddingInner": 0.346, "paddingOuter": 0.5}},
       "y": {"field": "mean", "type": "quantitative", "scale": {"domain": [0, 5], "range": [102, 11], "nice": false}, "axis": {"values": [0, 1, 2, 3, 4, 5], "title": "neuron per track (#)", "titleFontSize": 7, "titleFontWeight": "normal", "labelFontSize": 7, "tickSize": 3, "domainWidth": 1, "tickWidth": 1, "titlePadding": 3, "labelOverlap": false}},
       "fill": {"field": "c", "type": "nominal", "scale": {"domain": ["sham", "SNI"], "range": ["#ffffff", "#d1363a"]}, "legend": {"title": null, "orient": "none", "legendX": 133, "legendY": 5, "symbolType": "square", "symbolSize": 70, "symbolStrokeColor": "#222", "symbolStrokeWidth": 1, "labelFontSize": 8, "rowPadding": 4}}
      }},
     {"data": {"name": "g_bar"}, "mark": {"type": "rule", "color": "#222", "strokeWidth": 1}, "encoding": {"xOffset": {"field": "c", "type": "nominal"}, "y": {"field": "mean", "type": "quantitative"}, "y2": {"field": "hi"}}},
     {"data": {"name": "g_bar"}, "mark": {"type": "tick", "color": "#222", "thickness": 1, "size": 9}, "encoding": {"xOffset": {"field": "c", "type": "nominal"}, "y": {"field": "hi", "type": "quantitative"}}}
    ]},
    {"data": {"name": "g_pts"},
     "transform": [{"window": [{"op": "row_number", "as": "rn"}], "groupby": ["g", "c"], "sort": [{"field": "v", "order": "descending"}]}, {"calculate": "datum.c + [0,2,1][(datum.rn - 1) % 3]", "as": "jk"}],
     "mark": {"type": "point", "shape": "circle", "filled": true, "size": 30, "stroke": "#222", "strokeWidth": 1, "fill": "#ffffff", "opacity": 1},
     "encoding": {
      "xOffset": {"field": "jk", "type": "nominal", "scale": {"domain": ["p1","p2","sham0","sham1","sham2","p3","p4","SNI0","SNI1","SNI2","p5","p6"], "paddingInner": 0, "paddingOuter": 0}},
      "y": {"field": "v", "type": "quantitative", "axis": {"values": [0, 1, 2, 3, 4, 5], "title": "neuron per track (#)", "titleFontSize": 7, "titleFontWeight": "normal", "labelFontSize": 7, "tickSize": 3, "domainWidth": 1, "tickWidth": 1, "titlePadding": 3, "labelOverlap": false}}
     }}
   ],
   "resolve": {"scale": {"xOffset": "independent"}}
  }
 ]}
]
}
